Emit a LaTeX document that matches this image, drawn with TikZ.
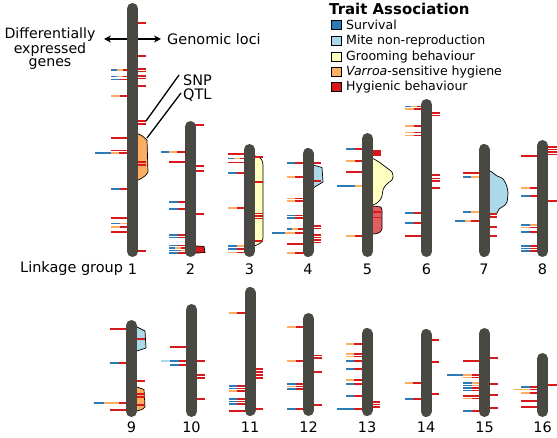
\documentclass[tikz,border=0pt]{standalone}
\usepackage{fontspec}
\setmainfont{DejaVu Sans}
\usetikzlibrary{arrows.meta}
\definecolor{tB}{HTML}{2C7BB6}
\definecolor{tL}{HTML}{ABD9E9}
\definecolor{tY}{HTML}{FFFFBF}
\definecolor{tO}{HTML}{FDAE61}
\definecolor{tR}{HTML}{D7191C}
\definecolor{chrc}{RGB}{74,72,67}
\tikzset{
  tk/.style={line width=1.6bp, line cap=butt},
  chrom/.style={draw=chrc, line width=11bp, line cap=round},
  qtl/.style={draw=black, line width=0.7bp, line join=round},
  lab/.style={font=\fontsize{14.5}{17}\selectfont, inner sep=0pt},
  legt/.style={font=\fontsize{12.6}{15}\selectfont, anchor=west, inner sep=0pt},
  legsq/.style={draw=black, line width=0.5bp, minimum size=9.5bp, inner sep=0pt},
  ptr/.style={draw=black, line width=1.3bp},
  arr/.style={draw=black, line width=1.3bp, -{Stealth[length=7bp,width=7bp]}}
}
\newcommand\tkseg[4]{\draw[tk,#4] (#2,#1) -- (#3,#1);}
\newcommand\Lr[1]{\tkseg{#1}{-21.5}{0}{tR}}
\newcommand\Lc[2]{\tkseg{#2}{-21.5}{-13}{#1}\tkseg{#2}{-13}{0}{tR}}
\newcommand\Lcc[3]{\tkseg{#3}{-21.5}{-13}{#1}\tkseg{#3}{-13}{0}{#2}}
\newcommand\Lccc[4]{\tkseg{#4}{-21.5}{-16}{#1}\tkseg{#4}{-16}{-10}{#2}\tkseg{#4}{-10}{0}{#3}}
\newcommand\Rr[1]{\tkseg{#1}{0}{13}{tR}}
\newcommand\Chrom[2]{\draw[chrom] (0,#1+5.5) -- (0,#2-5.5);}
\begin{document}
\begin{tikzpicture}[x=1bp,y=-1bp]
\useasboundingbox[fill=white] (0,0) rectangle (557,438);

% ---------------- chromosome 1
\begin{scope}[shift={(132.5,0)}]
\filldraw[qtl,fill=tO] (0,134) -- (6,134) .. controls (10,136) .. (14.5,140) -- (15.5,172) .. controls (13,176) .. (6,180) -- (0,180) -- cycle;
\Rr{23}\Rr{56}\Rr{69}\Rr{71.5}\Rr{76}\Rr{78.5}\Rr{86}\Rr{121}\Rr{124}\Rr{162}\Rr{165}\Rr{251}
\Lccc{tB}{tO}{tR}{70}\Lccc{tB}{tO}{tR}{76.5}\Lc{tB}{79.5}\Lc{tO}{96}\Lr{138}\Lr{150.5}
\tkseg{153}{-37.5}{-21.5}{tB}\tkseg{153}{-21.5}{-14}{tO}\tkseg{153}{-14}{0}{tR}
\Lc{tB}{189}\Lr{218}\Lcc{tB}{tO}{223.5}\Lc{tO}{227}\Lr{232}
\Chrom{3}{257}
\end{scope}
% ---------------- chromosome 2
\begin{scope}[shift={(190.5,0)}]
\filldraw[qtl,fill=tR] (0,245.5) -- (13.5,246.5) -- (14.5,252.5) -- (0,253.5) -- cycle;
\Rr{125}\Rr{166}\Rr{171}\Rr{214}
\tkseg{152}{-29.5}{-21.5}{tB}\tkseg{152}{-21.5}{-14}{tO}\tkseg{152}{-14}{0}{tR}
\Lr{162}\Lc{tB}{202}\Lc{tB}{209}\Lc{tB}{235}\Lc{tB}{237.5}\Lc{tB}{245.5}\Lccc{tB}{tO}{tR}{248}\Lccc{tB}{tB}{tO}{250.5}\Lc{tB}{253}
\Chrom{121}{257}
\end{scope}
% ---------------- chromosome 3
\begin{scope}[shift={(249.5,0)}]
\filldraw[qtl,fill=tY] (0,156) -- (6,156) .. controls (11,157) and (13.5,160) .. (13.5,165) -- (13.5,238) .. controls (13.5,242) and (10,244) .. (6,245.5) -- (0,245.5) -- cycle;
\Rr{157}\Rr{182}\Rr{213.5}\Rr{216}\Rr{218.5}\Rr{241}
\Lr{154}\Lccc{tB}{tO}{tR}{158.5}\Lr{162.5}\Lc{tB}{173}\Lc{tO}{208}\Lcc{tB}{tO}{246}\Lc{tB}{249}\Lc{tO}{252.5}
\Chrom{144}{257}
\end{scope}
% ---------------- chromosome 4
\begin{scope}[shift={(308,0)}]
\filldraw[qtl,fill=tL] (0,165) -- (5,165) -- (14,167.5) -- (15,182) -- (5,188) -- (0,188) -- cycle;
\Rr{163}\Rr{181}\Rr{226}\Rr{228.5}\Rr{235}\Rr{237.5}\Rr{240}\Rr{242.5}
\Lc{tB}{163}\Lc{tO}{177}\Lc{tO}{198.5}\Lc{tO}{201}\Lc{tB}{215.5}\Lc{tB}{218}\Lccc{tB}{tO}{tR}{229}
\tkseg{233}{-36}{-23}{tB}\tkseg{233}{-23}{-13}{tO}\tkseg{233}{-13}{0}{tR}
\Lr{244}\Lc{tO}{253}
\Chrom{148}{257}
\end{scope}
% ---------------- chromosome 5
\begin{scope}[shift={(367.5,0)}]
\filldraw[qtl,fill=tY] (0,158.5) -- plot[smooth] coordinates {(5.5,158.5) (11.5,162) (15.5,165) (19.5,168) (24.5,172) (25.5,177) (24.5,180) (20.5,183) (17.5,186) (15.5,190) (14.5,196) (12.5,200) (9.5,203) (5.5,205)} -- (0,205) -- cycle;
\filldraw[qtl,fill=tR!70] (0,206) -- (5.5,206) -- (13.5,207) -- (14.5,210) -- (14.5,229) .. controls (14.5,231) and (12,233) .. (9.5,233.5) -- (5.5,234) -- (0,234) -- cycle;
\Rr{151}\Rr{153}\Rr{155}\Rr{212}\Rr{217.5}
\Lc{tB}{149}\Lc{tO}{161}\Lr{172}
\tkseg{186}{-30.5}{-12.5}{tB}\tkseg{186}{-12.5}{0}{tO}
\Lc{tO}{236}
\Chrom{133}{257}
\end{scope}
% ---------------- chromosome 6
\begin{scope}[shift={(426.5,0)}]
\Rr{113}\Rr{115.5}\Rr{175}\Rr{178.5}\Rr{181}\Rr{188}
\Lccc{tB}{tO}{tR}{106.5}\Lc{tO}{109}\Lc{tO}{126}\Lc{tO}{132.5}\Lc{tO}{135.5}\Lc{tB}{213}\Lc{tB}{223}\Lr{236}
\Chrom{99}{257}
\end{scope}
% ---------------- chromosome 7
\begin{scope}[shift={(484,0)}]
\filldraw[qtl,fill=tL] (0,171) -- plot[smooth] coordinates {(6,171) (9,173) (13,176) (18,178) (21,182) (23,187) (24,193) (23,202) (21,205) (18,207) (15,209) (13,213) (9,214) (6,215)} -- (0,215) -- cycle;
\Rr{214}\Rr{217}\Rr{227}\Rr{236}
\Lr{173}\Lcc{tB}{tO}{177}\Lcc{tB}{tO}{212}
\tkseg{221}{-29}{-19}{tB}\tkseg{221}{-19}{-13}{tO}\tkseg{221}{-13}{0}{tR}
\Chrom{144}{257}
\end{scope}
% ---------------- chromosome 8
\begin{scope}[shift={(542.5,0)}]
\tkseg{147}{0}{14.5}{tR}\tkseg{149.5}{0}{14.5}{tR}\tkseg{152}{0}{14.5}{tR}\tkseg{154.5}{0}{14.5}{tR}\tkseg{201}{0}{14.5}{tR}
\Lr{156}\Lc{tO}{188}\Lc{tB}{196}\Lcc{tB}{tO}{225}\Lc{tO}{227.5}\Lc{tB}{232}\Lc{tB}{246}\Lc{tB}{248.5}\Lc{tB}{251}
\Chrom{140}{257}
\end{scope}
% ---------------- chromosome 9
\begin{scope}[shift={(131.5,0)}]
\filldraw[qtl,fill=tL] (0,327) -- (5.5,327) -- (13.5,331) -- (14.5,348) -- (5.5,351) -- (0,351) -- cycle;
\filldraw[qtl,fill=tO] (0,387) -- (5.5,387) -- (12.5,389.5) -- (13.5,407) .. controls (12,409) .. (5.5,411) -- (0,411) -- cycle;
\Rr{339}\Rr{381}\Rr{394}\Rr{397}\Rr{405}
\Lr{329}\Lc{tB}{363}
\tkseg{403}{-37.5}{-28}{tB}\tkseg{403}{-28}{-13}{tO}\tkseg{403}{-13}{0}{tR}
\Lr{410}
\Chrom{320}{417}
\end{scope}
% ---------------- chromosome 10
\begin{scope}[shift={(191.5,0)}]
\Rr{361}\Rr{375}\Rr{378}\Rr{399}
\Lr{347}
\tkseg{361}{-30.5}{-22}{tL}\tkseg{361}{-22}{-13}{tB}\tkseg{361}{-13}{0}{tR}
\Lc{tB}{365}
\Chrom{304}{417}
\end{scope}
% ---------------- chromosome 11
\begin{scope}[shift={(250,0)}]
\Rr{369}\Rr{372}\Rr{375}\Rr{378}\Rr{409}
\Lc{tO}{313}\Lc{tB}{386}\Lc{tB}{388.5}\Lc{tO}{391}\Lc{tB}{399}\Lc{tB}{401.5}\Lc{tB}{404}\Lr{411}
\Chrom{287}{416}
\end{scope}
% ---------------- chromosome 12
\begin{scope}[shift={(308.5,0)}]
\Rr{355.5}\Rr{358}\Rr{372}\Rr{405}
\Lc{tO}{327}\Lc{tO}{361}\Lc{tB}{384}\Lc{tO}{386.5}\Lc{tB}{389}\Lc{tB}{409}
\Chrom{313}{416}
\end{scope}
% ---------------- chromosome 13
\begin{scope}[shift={(367,0)}]
\Rr{402}\Rr{404.5}\Rr{407}
\Lc{tO}{344}\Lc{tO}{354}\Lc{tO}{356.5}\Lc{tB}{361}\Lc{tB}{369}\Lc{tO}{380}\Lc{tB}{384}\Lc{tB}{396}
\tkseg{409}{-30}{-13}{tB}\tkseg{409}{-13}{0}{tR}
\Chrom{328}{416}
\end{scope}
% ---------------- chromosome 14
\begin{scope}[shift={(426,0)}]
\Rr{340}\Rr{362}\Rr{394}
\Lc{tO}{383}\Lc{tB}{399}
\Chrom{329}{417}
\end{scope}
% ---------------- chromosome 15
\begin{scope}[shift={(484.5,0)}]
\Rr{358}\Rr{384}\Rr{395}\Rr{408}
\Lr{361}
\tkseg{375}{-37.5}{-21.5}{tB}\tkseg{375}{-21.5}{-13}{tO}\tkseg{375}{-13}{0}{tR}
\Lc{tO}{377.5}\Lcc{tB}{tO}{383}\Lcc{tB}{tO}{385.5}\Lc{tB}{388}\Lc{tB}{390.5}\Lr{396}\Lc{tO}{398.5}\Lc{tB}{411}
\Chrom{328}{417}
\end{scope}
% ---------------- chromosome 16
\begin{scope}[shift={(542.5,0)}]
\tkseg{385}{0}{14.5}{tR}
\Lc{tB}{387}
\tkseg{389.5}{-28.5}{-13}{tO}\tkseg{389.5}{-13}{0}{tR}
\Lc{tO}{393}\Lr{401}\Lr{407}
\Chrom{353}{417}
\end{scope}

% ---------------- labels
\node[lab] (n1) at (132.5,269) {1};
\node[lab, anchor=east] (lg) at ([xshift=-4.5bp]n1.west) {Linkage group};
\node[lab] (n2) at (190.5,269) {2};
\node[lab] (n3) at (249.5,269) {3};
\node[lab] (n4) at (308,269) {4};
\node[lab] (n5) at (367.5,269) {5};
\node[lab] (n6) at (426.5,269) {6};
\node[lab] (n7) at (484,269) {7};
\node[lab] (n8) at (542.5,269) {8};
\node[lab] (n9) at (131.5,427) {9};
\node[lab] (n10) at (191.5,427) {10};
\node[lab] (n11) at (250,427) {11};
\node[lab] (n12) at (308.5,427) {12};
\node[lab] (n13) at (367,427) {13};
\node[lab] (n14) at (426,427) {14};
\node[lab] (n15) at (484.5,427) {15};
\node[lab] (n16) at (542.5,427) {16};

% ---------------- annotations
\node[lab, align=center, font=\fontsize{14.2}{13.2}\selectfont] (deg) at (50,49) {Differentially\\expressed\\genes};
\node[lab, anchor=west] (gl) at (167,39) {Genomic loci};
\coordinate (al0) at (127,39);
\coordinate (al1) at (104,39);
\coordinate (ar0) at (138,39);
\coordinate (ar1) at (161,39);
\draw[arr] (al0) -- (al1);
\draw[arr] (ar0) -- (ar1);
\node[lab, anchor=west] (snp) at (183,80) {SNP};
\node[lab, anchor=west] (qtlt) at (183,95) {QTL};
\coordinate (snp0) at (146,121);
\coordinate (snp1) at (179,75);
\coordinate (qtl0) at (147,138);
\coordinate (qtl1) at (181,93);
\draw[ptr] (snp0) -- (snp1);
\draw[ptr] (qtl0) -- (qtl1);

% ---------------- legend
\node[anchor=west, inner sep=0pt, font=\bfseries\fontsize{15}{18}\selectfont] (lt) at (329,9) {Trait Association};
\node[legsq, fill=tB] (s1) at (336,25) {};
\node[legsq, fill=tL] (s2) at (336,41) {};
\node[legsq, fill=tY] (s3) at (336,57) {};
\node[legsq, fill=tO] (s4) at (336,72) {};
\node[legsq, fill=tR] (s5) at (336,87) {};
\node[legt] (l1) at (346,25) {Survival};
\node[legt] (l2) at (346,41) {Mite non-reproduction};
\node[legt] (l3) at (346,57) {Grooming behaviour};
\node[legt] (l4) at (346,72) {\textit{Varroa}-sensitive hygiene};
\node[legt] (l5) at (346,87) {Hygienic behaviour};
\end{tikzpicture}
\end{document}
